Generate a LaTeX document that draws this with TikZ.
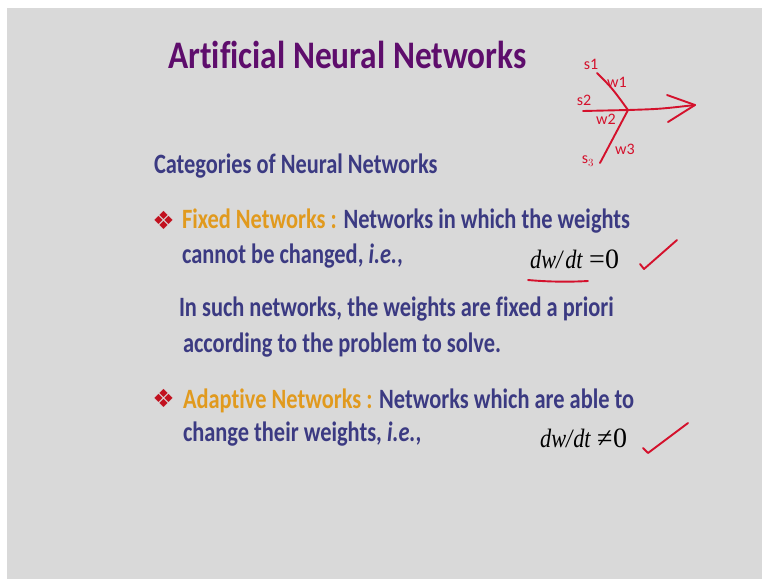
\documentclass[tikz,border=0pt]{standalone}
\usepackage{fontspec}
\setmainfont{Carlito}[FakeStretch=0.8, Ligatures=NoCommon]
\newfontfamily\titlefont{Carlito}[FakeStretch=0.855, Ligatures=NoCommon]
\newfontfamily\eqfont{Liberation Serif}[FakeStretch=0.84]
\newfontfamily\relfont{Liberation Serif}
\newfontfamily\symfont{DejaVu Sans}
\newfontfamily\inkfont{Carlito}
\definecolor{slidebg}{HTML}{D9D9D9}
\definecolor{titlepurple}{HTML}{5E0D6C}
\definecolor{bodyblue}{HTML}{3B3A82}
\definecolor{catorange}{HTML}{E19A1E}
\definecolor{bulletred}{HTML}{C2111F}
\definecolor{ink}{HTML}{D4112C}
\tikzset{
  txt/.style={anchor=base west, inner sep=0pt, outer sep=0pt, text=bodyblue, font=\bfseries\fontsize{28}{32}\selectfont},
  ttl/.style={anchor=base west, inner sep=0pt, text=titlepurple, font=\titlefont\bfseries\fontsize{39}{44}\selectfont},
  bul/.style={inner sep=0pt, text=bulletred, font=\symfont\fontsize{25}{27}\selectfont},
  eq/.style={anchor=base west, inner sep=0pt, text=black, font=\eqfont\itshape\fontsize{26.5}{30}\selectfont},
  rel/.style={anchor=base west, inner sep=0pt, text=black, font=\relfont\fontsize{28}{30}\selectfont},
  inktxt/.style={inner sep=0pt, text=ink, font=\inkfont\fontsize{16}{17}\selectfont},
  pen/.style={draw=ink, line width=1.9pt, line cap=round, line join=round},
}
\begin{document}
\begin{tikzpicture}[x=1pt,y=-1pt]
\useasboundingbox (0,0) rectangle (762,579);
\fill[white] (0,0) rectangle (762,579);
\fill[slidebg] (7,8) rectangle (762,579);

% title
\node[ttl] (title) at (168,68) {Artificial Neural Networks};

% body text
\node[txt] (cat) at (154,173) {Categories of Neural Networks};

\node[bul] (b1) at (163.5,220) {❖};
\node[txt] (fixed) at (182,228) {\textcolor{catorange}{Fixed Networks :} Networks in which the weights};
\node[txt] (fixed2) at (182,263) {cannot be changed, \textit{i.e.},};
\node[eq] (eq1) at (530,268) {dw/\hspace{3pt}dt};
\node[rel] (eq1r) at (589,268) {=};
\node[rel] (eq1z) at (605,268) {0};

\node[txt] (such) at (179,316) {In such networks, the weights are fixed a priori};
\node[txt] (such2) at (183,352) {according to the problem to solve.};

\node[bul] (b2) at (163.5,398) {❖};
\node[txt] (adapt) at (183,408) {\textcolor{catorange}{Adaptive Networks :} Networks which are able to};
\node[txt] (adapt2) at (183,441) {change their weights, \textit{i.e.},};
\node[eq] (eq2) at (540,447) {dw/\hspace{1pt}dt};
\node[rel] (eq2r) at (597,447) {≠};
\node[rel] (eq2z) at (613,447) {0};

% handwritten marks
\coordinate (u1) at (528,280);
\coordinate (u2) at (588,281);
\draw[pen] (u1) .. controls (550,282) and (570,282) .. (u2);

\coordinate (c1a) at (640,264);
\coordinate (c1b) at (644,269);
\coordinate (c1c) at (677,240);
\draw[pen] (c1a) -- (c1b) -- (c1c);

\coordinate (c2a) at (643,448);
\coordinate (c2b) at (648,453);
\coordinate (c2c) at (688,423);
\draw[pen] (c2a) -- (c2b) -- (c2c);

% neuron sketch
\coordinate (jn) at (628,110);
\coordinate (in1) at (597,73);
\coordinate (in2) at (583,111);
\coordinate (in3) at (600,163);
\coordinate (outp) at (695,105);
\coordinate (ah1) at (667,95);
\coordinate (ah2) at (668,122);
\draw[pen] (in1) .. controls (612,88) .. (jn);
\draw[pen] (in2) -- (jn) .. controls (660,109) .. (outp);
\draw[pen] (jn) -- (in3);
\draw[pen] (ah1) -- (outp) -- (ah2);

\node[inktxt] (s1) at (591,64) {s1};
\node[inktxt] (w1) at (617,82) {w1};
\node[inktxt] (s2) at (584,100) {s2};
\node[inktxt] (w2) at (606,119) {w2};
\node[inktxt] (w3) at (625,149) {w3};
\node[inktxt] (s3) at (588,161) {s$_3$};
\end{tikzpicture}
\end{document}
